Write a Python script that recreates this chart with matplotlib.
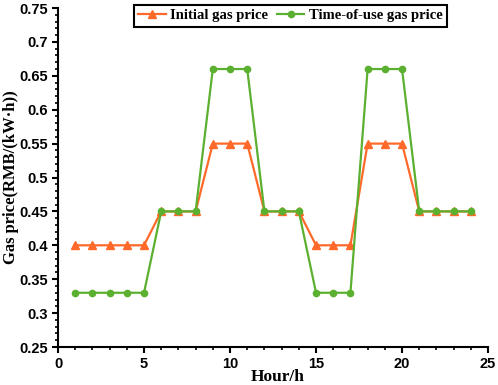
import matplotlib.pyplot as plt
from matplotlib.ticker import MultipleLocator

hours = list(range(1, 25))
initial_price = [0.40, 0.40, 0.40, 0.40, 0.40, 0.45, 0.45, 0.45, 0.55, 0.55, 0.55, 0.45,
                 0.45, 0.45, 0.40, 0.40, 0.40, 0.55, 0.55, 0.55, 0.45, 0.45, 0.45, 0.45]
tou_price = [0.33, 0.33, 0.33, 0.33, 0.33, 0.45, 0.45, 0.45, 0.66, 0.66, 0.66, 0.45,
             0.45, 0.45, 0.33, 0.33, 0.33, 0.66, 0.66, 0.66, 0.45, 0.45, 0.45, 0.45]

fig = plt.figure(figsize=(4.98, 3.85), dpi=100)
ax = fig.add_axes([0.1165, 0.0987, 0.8635, 0.8805])

ax.plot(hours, initial_price, color='#FF6A2A', marker='^', markersize=5.5, lw=1.6,
        label='Initial gas price')
ax.plot(hours, tou_price, color='#5CB030', marker='o', markersize=4.5, lw=1.6,
        label='Time-of-use gas price')

ax.set_xlim(0, 25)
ax.set_ylim(0.25, 0.75)
ax.xaxis.set_major_locator(MultipleLocator(5))
ax.xaxis.set_minor_locator(MultipleLocator(1))
ax.yaxis.set_major_locator(MultipleLocator(0.05))
ax.yaxis.set_minor_locator(MultipleLocator(0.01))
ax.set_yticklabels([f'{v:g}' for v in ax.get_yticks()])

for s in ['top', 'right']:
    ax.spines[s].set_visible(False)
for s in ['left', 'bottom']:
    ax.spines[s].set_linewidth(1.5)
ax.tick_params(which='major', direction='out', length=4, width=1.5, pad=3)
ax.tick_params(which='minor', direction='out', length=2, width=1.2)
for lab in ax.get_xticklabels() + ax.get_yticklabels():
    lab.set_fontfamily('Liberation Sans')
    lab.set_fontweight('bold')
    lab.set_fontsize(10.5)

ax.set_xlabel('Hour/h', fontfamily='Liberation Serif', fontweight='bold', fontsize=12.5)
ax.xaxis.set_label_coords(0.51, -0.065)
ax.set_ylabel('Gas price(RMB/(kW·h))', fontfamily='Liberation Serif', fontweight='bold', fontsize=12)
ax.yaxis.set_label_coords(-0.09, 0.5)

leg = ax.legend(loc='upper center', bbox_to_anchor=(0.54, 1.01), ncol=2, fancybox=False,
                edgecolor='black', framealpha=1, handlelength=1.9, handletextpad=0.3,
                columnspacing=0.6, borderpad=0.3, borderaxespad=0,
                prop={'family': 'Liberation Serif', 'weight': 'bold', 'size': 10.5})
leg.get_frame().set_linewidth(1.5)

fig.savefig('out.png', dpi=100)
